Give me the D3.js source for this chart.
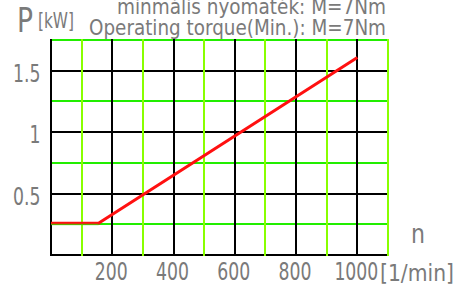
<!DOCTYPE html>
<html>
<head>
<meta charset="utf-8">
<script src="https://cdn.jsdelivr.net/npm/d3@7.9.0/dist/d3.min.js"></script>
<style>
  html, body { margin: 0; padding: 0; background: #fff; }
  svg { display: block; }
  text { font-family: "DejaVu Sans", sans-serif; fill: #7a7a7a; }
</style>
</head>
<body>
<svg id="chart" width="458" height="287"></svg>
<script>
// data
const speedTicks = [200, 400, 600, 800, 1000];
const powerTicks = [0.5, 1, 1.5];
const powerCurve = [
  { n: 0, p: 0.25 },
  { n: 155, p: 0.25 },
  { n: 1000, p: 1.6 }
];
const titleLines = ['minmális  nyomaték:  M=7Nm', 'Operating  torque(Min.):  M=7Nm'];

const svg = d3.select('#chart');

const x = d3.scaleLinear().domain([0, 1100]).range([51, 388]);
const y = d3.scaleLinear().domain([0, 1.75]).range([255, 40]);

// grid
const grid = svg.append('g');
const vLines = d3.range(0, 1101, 100);
const hLines = d3.range(0, 1.76, 0.25);

grid.selectAll('line.h')
  .data(hLines)
  .join('line')
  .attr('x1', x(0)).attr('x2', x(1100))
  .attr('y1', d => Math.round(y(d))).attr('y2', d => Math.round(y(d)))
  .attr('stroke', d => Math.round(d * 4) % 2 === 0 ? '#000' : '#22ee00')
  .attr('stroke-width', 2);

grid.selectAll('line.v')
  .data(vLines)
  .join('line')
  .attr('x1', d => Math.round(x(d))).attr('x2', d => Math.round(x(d)))
  .attr('y1', y(0) + 1).attr('y2', y(1.75) - 1)
  .attr('stroke', d => d % 200 === 0 ? '#000' : '#88ff00')
  .attr('stroke-width', 2);

// power curve
const line = d3.line().x(d => x(d.n)).y(d => y(d.p) - 1);
svg.append('path')
  .datum(powerCurve)
  .attr('d', line)
  .attr('fill', 'none')
  .attr('stroke', '#ff1010')
  .attr('stroke-width', 3);

// green line partly over the flat part
svg.append('line')
  .attr('x1', x(0)).attr('x2', x(powerCurve[1].n))
  .attr('y1', Math.round(y(0.25)) + 0.5).attr('y2', Math.round(y(0.25)) + 0.5)
  .attr('stroke', '#22ee00').attr('stroke-opacity', 0.6)
  .attr('stroke-width', 1.5);

// tick labels
svg.selectAll('text.ytick')
  .data(powerTicks)
  .join('text')
  .attr('class', 'ytick')
  .attr('transform', d => `translate(40.5,${y(d) + 11}) scale(0.72,1)`)
  .attr('text-anchor', 'end')
  .attr('font-size', 24)
  .text(d => d);

svg.selectAll('text.xtick')
  .data(speedTicks)
  .join('text')
  .attr('class', 'xtick')
  .attr('transform', d => `translate(${x(d) - 1},${280}) scale(0.72,1)`)
  .attr('text-anchor', 'middle')
  .attr('font-size', 24)
  .text(d => d);

// axis names
svg.append('text')
  .attr('x', 17).attr('y', 31.5)
  .attr('font-size', 34)
  .attr('textLength', 16).attr('lengthAdjust', 'spacingAndGlyphs')
  .text('P');
svg.append('text')
  .attr('x', 38).attr('y', 28)
  .attr('font-size', 21)
  .attr('textLength', 36).attr('lengthAdjust', 'spacingAndGlyphs')
  .text('[kW]');
svg.append('text')
  .attr('x', 411).attr('y', 243)
  .attr('font-size', 26)
  .attr('textLength', 14).attr('lengthAdjust', 'spacingAndGlyphs')
  .text('n');
svg.append('text')
  .attr('x', 380).attr('y', 281)
  .attr('font-size', 23)
  .attr('textLength', 74).attr('lengthAdjust', 'spacingAndGlyphs')
  .text('[1/min]');

// title
svg.append('text')
  .attr('x', 117).attr('y', 14)
  .attr('font-size', 21)
  .attr('textLength', 269).attr('lengthAdjust', 'spacingAndGlyphs')
  .text(titleLines[0]);
svg.append('text')
  .attr('x', 89).attr('y', 35)
  .attr('font-size', 21)
  .attr('textLength', 297).attr('lengthAdjust', 'spacingAndGlyphs')
  .text(titleLines[1]);
</script>
</body>
</html>
